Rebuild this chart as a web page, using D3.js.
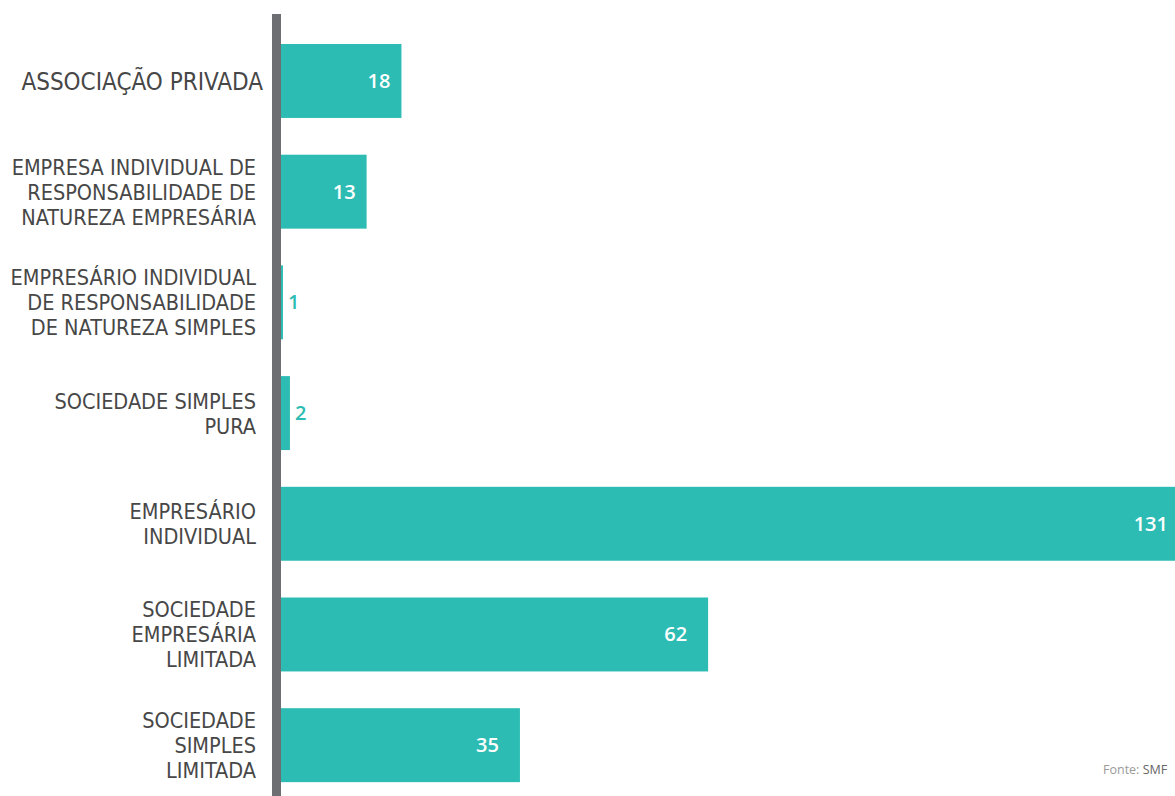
<!DOCTYPE html>
<html>
<head>
<meta charset="utf-8">
<script src="https://cdn.jsdelivr.net/npm/d3@7"></script>
<style>
  body { margin: 0; background: #fff; }
  svg { display: block; }
  .cat { font-family: 'Liberation Sans Narrow', 'DejaVu Sans Condensed', sans-serif; fill: #474747; }
  .val { font-family: 'Open Sans', sans-serif; font-weight: 600; }
</style>
</head>
<body>
<svg id="chart" width="1175" height="796"></svg>
<script>
// categories, top to bottom
const categories = [
  'ASSOCIAÇÃO PRIVADA',
  'EMPRESA INDIVIDUAL DE RESPONSABILIDADE DE NATUREZA EMPRESÁRIA',
  'EMPRESÁRIO INDIVIDUAL DE RESPONSABILIDADE DE NATUREZA SIMPLES',
  'SOCIEDADE SIMPLES PURA',
  'EMPRESÁRIO INDIVIDUAL',
  'SOCIEDADE EMPRESÁRIA LIMITADA',
  'SOCIEDADE SIMPLES LIMITADA',
];
// how each category label is broken into lines
const categoryLines = [
  ['ASSOCIAÇÃO PRIVADA'],
  ['EMPRESA INDIVIDUAL DE', 'RESPONSABILIDADE DE', 'NATUREZA EMPRESÁRIA'],
  ['EMPRESÁRIO INDIVIDUAL', 'DE RESPONSABILIDADE', 'DE NATUREZA SIMPLES'],
  ['SOCIEDADE SIMPLES', 'PURA'],
  ['EMPRESÁRIO', 'INDIVIDUAL'],
  ['SOCIEDADE', 'EMPRESÁRIA', 'LIMITADA'],
  ['SOCIEDADE', 'SIMPLES', 'LIMITADA'],
];
const values = [18, 13, 1, 2, 131, 62, 35];
const source = ['Fonte: ', 'SMF'];

const width = 1175;
const height = 796;
const teal = '#2dbcb3';

const svg = d3.select('#chart');

const x = d3.scaleLinear()
  .domain([0, 131])
  .range([276, 1189]);

const step = 110.7;
const y = d3.scaleBand()
  .domain(categories)
  .range([44 - 0.166 * step, 44 - 0.166 * step + categories.length * step])
  .paddingInner(0.332)
  .paddingOuter(0.166);

// bars (start under the axis line)
svg.append('g')
  .selectAll('rect')
  .data(values)
  .join('rect')
  .attr('x', x(0))
  .attr('y', (d, i) => y(categories[i]))
  .attr('width', (d) => x(d) - x(0))
  .attr('height', y.bandwidth())
  .attr('fill', teal);

// axis line
svg.append('rect')
  .attr('x', 272)
  .attr('y', 14)
  .attr('width', 9)
  .attr('height', height - 14)
  .attr('fill', '#6d6e71');

// category labels
const cats = svg.append('g')
  .selectAll('text')
  .data(categoryLines)
  .join('text')
  .attr('class', 'cat')
  .attr('text-anchor', 'end')
  .style('font-size', (d) => (d.length === 1 ? '24px' : '21.5px'));

cats.each(function (lines, i) {
  const cy = y(categories[i]) + y.bandwidth() / 2;
  const big = lines.length === 1;
  d3.select(this)
    .selectAll('tspan')
    .data(lines)
    .join('tspan')
    .attr('x', big ? 263 : 256)
    .attr('y', (d, j) => cy + (big ? 9 : 8) + (j - (lines.length - 1) / 2) * 25)
    .text((d) => d);
});

// value labels: inside the bar end, or just outside for tiny bars
svg.append('g')
  .selectAll('text')
  .data(values)
  .join('text')
  .attr('class', 'val')
  .style('font-size', '20px')
  .attr('y', (d, i) => y(categories[i]) + y.bandwidth() / 2 + 7)
  .attr('text-anchor', (d) => (d < 5 ? 'start' : 'end'))
  .attr('x', (d) => {
    if (d < 5) return x(d) + 5;
    return x(d) - (x(d) - x(0) > 150 ? 21 : 11);
  })
  .attr('fill', (d) => (d < 5 ? teal : '#fff'))
  .text((d) => d);

// source note
svg.append('text')
  .attr('x', 1103)
  .attr('y', 774)
  .style('font-family', "'Open Sans', sans-serif")
  .style('font-size', '12.5px')
  .selectAll('tspan')
  .data(source)
  .join('tspan')
  .attr('fill', (d, i) => (i === 0 ? '#9a9a9a' : '#666'))
  .text((d) => d);
</script>
</body>
</html>
